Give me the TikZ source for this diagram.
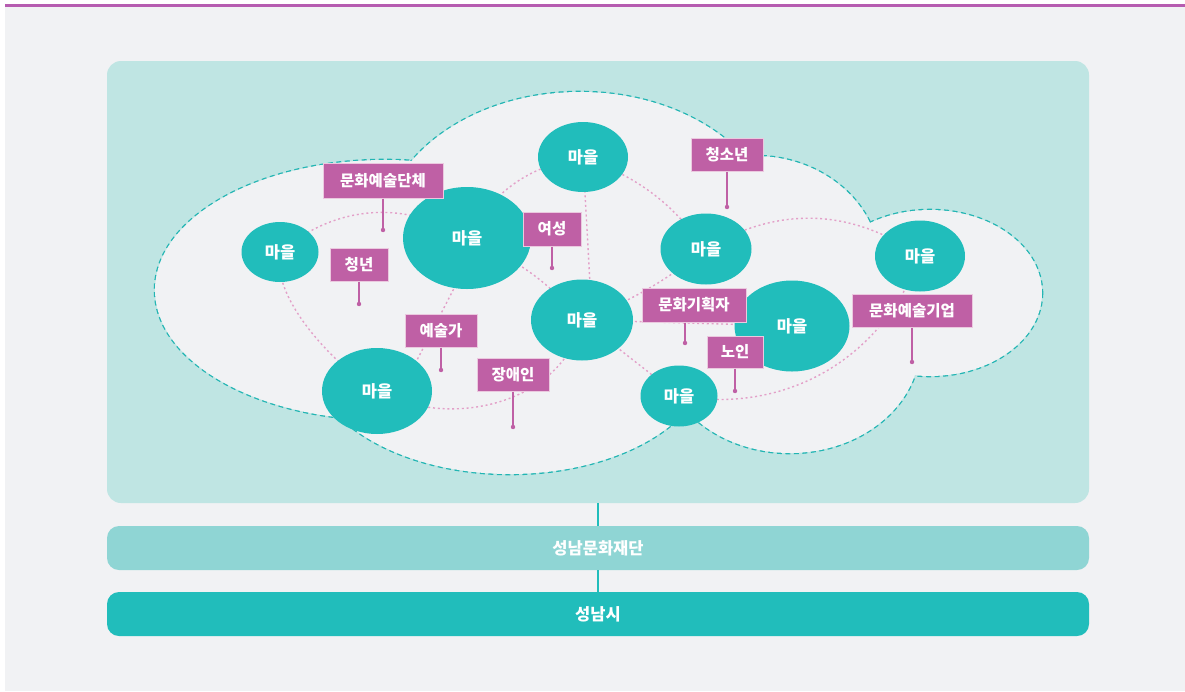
\documentclass[tikz,border=0pt]{standalone}
\usepackage{fontspec}
\setmainfont{Noto Sans CJK KR}
\usetikzlibrary{shapes.geometric,calc}
\definecolor{pagegray}{HTML}{F1F2F4}
\definecolor{topline}{HTML}{B65CB0}
\definecolor{panelc}{HTML}{BFE5E3}
\definecolor{tealc}{HTML}{21BDBB}
\definecolor{cloudline}{HTML}{22B5B3}
\definecolor{dotpink}{HTML}{E3A0C8}
\definecolor{labc}{HTML}{BF60A5}
\definecolor{labline}{HTML}{EBC9DF}
\definecolor{barc}{HTML}{8FD5D4}
\begin{document}
\begin{tikzpicture}[x=1pt,y=-1pt,
  maeul/.style={ellipse, fill=tealc, text=white, inner sep=0pt,
    font=\bfseries\fontsize{16.5}{16.5}\selectfont},
  tagbox/.style={rectangle, fill=labc, draw=labline, line width=1pt, text=white,
    inner sep=0pt, font=\bfseries\fontsize{15.5}{15.5}\selectfont},
  cloudedge/.style={draw=cloudline, line width=2.6pt, dash pattern=on 5pt off 3.5pt},
  netline/.style={draw=dotpink, line width=1.4pt, dash pattern=on 2pt off 2.8pt},
  stem/.style={draw=labc, line width=1.3pt},
  bar/.style={rectangle, rounded corners=12pt, minimum width=982pt, minimum height=44pt,
    inner sep=0pt, text=white, font=\bfseries\fontsize{16.5}{16.5}\selectfont},
  link/.style={draw=tealc, line width=2pt}]
\useasboundingbox (0,0) rectangle (1185,691);
\fill[white] (0,0) rectangle (1185,691);
\fill[pagegray] (5,6) rectangle (1185,691);
\draw[topline, line width=2.2pt] (5,5.5) -- (1185,5.5);

% panel and bars
\node[rectangle, rounded corners=14pt, fill=panelc, minimum width=982pt, minimum height=442pt, inner sep=0pt] (panel) at (598,282) {};
\node[bar, fill=barc] (fdn) at (598,548) {성남문화재단};
\node[bar, fill=tealc] (city) at (598,614) {성남시};
\draw[link] (panel.south) -- (fdn.north);
\draw[link] (fdn.south) -- (city.north);

% cloud
\foreach \cx/\cy/\rx/\ry in {385/290/230/130, 580/242/200/150, 755/266/125/110, 930/293/112/83, 790/345/130/108, 510/354/200/120}
  \draw[cloudedge] (\cx,\cy) ellipse [x radius=\rx, y radius=\ry];
\foreach \cx/\cy/\rx/\ry in {385/290/230/130, 580/242/200/150, 755/266/125/110, 930/293/112/83, 790/345/130/108, 510/354/200/120}
  \fill[pagegray] (\cx,\cy) ellipse [x radius=\rx, y radius=\ry];

% village centres
\coordinate (c1) at (583,157);
\coordinate (c2) at (467,238);
\coordinate (c3) at (280,252);
\coordinate (c4) at (582,320);
\coordinate (c5) at (377,391);
\coordinate (c6) at (706,249);
\coordinate (c7) at (792,326);
\coordinate (c8) at (920,256);
\coordinate (c9) at (679,396);

% network lines
\path[netline] (c3) to[bend left=36] (c2);
\path[netline] (c2) to[bend left=12] (c4);
\path[netline] (c4) .. controls +(-17,80) and +(78,41) .. (c5);
\path[netline] (c5) .. controls +(-37,-21) and +(-10,48) .. (c3);
\path[netline] ($(c2)+(13,0)$) -- ($(c5)+(24,0)$);
\path[netline] (c2) to[bend left=25] (c1);
\path[netline] (c1) to[bend left=16] (c6);
\path[netline] (c6) to[bend left=8] (c4);
\path[netline] (c1) -- ($(c4)+(10,0)$);
\path[netline] (c6) to[bend left=33] (c8);
\path[netline] (c8) to[bend left=40] (c9);
\path[netline] (c4) -- (c9);
\path[netline] (c4) -- (c7);

% villages
\node[maeul, minimum width=90pt, minimum height=70pt] (m1) at (c1) {마을};
\node[maeul, minimum width=128pt, minimum height=102pt] (m2) at (c2) {마을};
\node[maeul, minimum width=77pt, minimum height=60pt] (m3) at (c3) {마을};
\node[maeul, minimum width=102pt, minimum height=81pt] (m4) at (c4) {마을};
\node[maeul, minimum width=110pt, minimum height=86pt] (m5) at (c5) {마을};
\node[maeul, minimum width=91pt, minimum height=71pt] (m6) at (c6) {마을};
\node[maeul, minimum width=115pt, minimum height=91pt] (m7) at (c7) {마을};
\node[maeul, minimum width=90pt, minimum height=71pt] (m8) at (c8) {마을};
\node[maeul, minimum width=77pt, minimum height=61pt] (m9) at (c9) {마을};

% labels
\node[tagbox, minimum width=120pt, minimum height=35pt] (t1) at (383,180.5) {문화예술단체};
\node[tagbox, minimum width=58pt, minimum height=33pt] (t2) at (359,264.5) {청년};
\node[tagbox, minimum width=58pt, minimum height=34pt] (t3) at (552,229) {여성};
\node[tagbox, minimum width=72pt, minimum height=33pt] (t4) at (441,330.5) {예술가};
\node[tagbox, minimum width=72pt, minimum height=33pt] (t5) at (513,374.5) {장애인};
\node[tagbox, minimum width=72pt, minimum height=33pt] (t6) at (727,154.5) {청소년};
\node[tagbox, minimum width=104pt, minimum height=34pt] (t7) at (694,305) {문화기획자};
\node[tagbox, minimum width=56pt, minimum height=32pt] (t8) at (735,352) {노인};
\node[tagbox, minimum width=120pt, minimum height=33pt] (t9) at (912,310.5) {문화예술기업};

% stems
\coordinate (d1) at (383,230);
\coordinate (d2) at (359,304);
\coordinate (d3) at (552,268);
\coordinate (d4) at (441,370);
\coordinate (d5) at (513,427);
\coordinate (d6) at (727,207);
\coordinate (d7) at (685,343);
\coordinate (d8) at (735,391);
\coordinate (d9) at (912,362);
\foreach \i in {1,2,3,4,5,6,8,9} {
  \draw[stem] (t\i.south) -- (d\i);
  \fill[labc] (d\i) circle (2.2pt);
}
\draw[stem] (t7.south -| d7) -- (d7);
\fill[labc] (d7) circle (2.2pt);
\end{tikzpicture}
\end{document}
